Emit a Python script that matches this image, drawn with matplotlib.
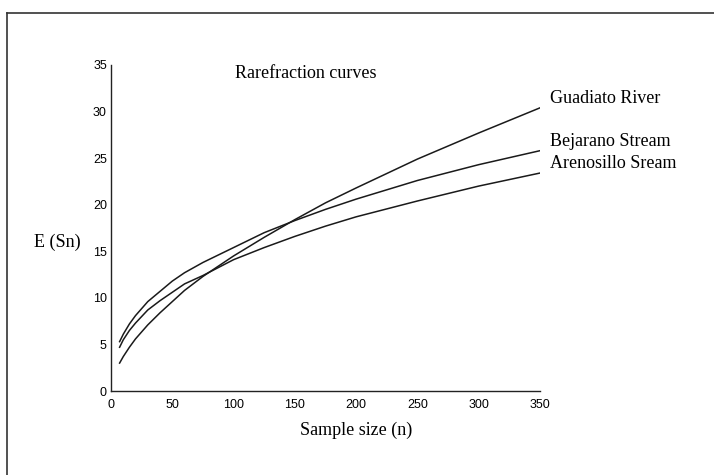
import matplotlib
matplotlib.use("Agg")
import matplotlib.pyplot as plt
from matplotlib.lines import Line2D

# sample size (n) at which the curves were read
n = [7, 10, 15, 20, 30, 40, 50, 60, 75, 100, 125, 150, 175, 200, 250, 300, 350]

# expected number of species E(Sn)
guadiato = [3.0, 3.7, 4.7, 5.6, 7.1, 8.4, 9.6, 10.8, 12.3, 14.5, 16.5, 18.4, 20.2, 21.8, 24.9, 27.7, 30.4]
bejarano = [5.3, 6.1, 7.2, 8.1, 9.6, 10.7, 11.8, 12.7, 13.8, 15.4, 17.0, 18.3, 19.5, 20.6, 22.6, 24.3, 25.8]
arenosillo = [4.7, 5.5, 6.5, 7.3, 8.7, 9.7, 10.6, 11.5, 12.4, 14.1, 15.4, 16.6, 17.7, 18.7, 20.4, 22.0, 23.4]

series = [
    ("Guadiato River", guadiato),
    ("Bejarano Stream", bejarano),
    ("Arenosillo Sream", arenosillo),
]

x_ticks = [0, 50, 100, 150, 200, 250, 300, 350]
y_ticks = [0, 5, 10, 15, 20, 25, 30, 35]

serif = "Liberation Serif"
sans = "Liberation Sans"

fig = plt.figure(figsize=(7.14, 4.75), dpi=100)
ax = fig.add_axes([0.1555, 0.1768, 0.6008, 0.6864])

for name, vals in series:
    ax.plot(n, vals, color="#1a1a1a", lw=1.1)
    # label just right of where the curve ends
    ax.text(n[-1] + 8, vals[-1] + 1.0, name, fontsize=13, family=serif,
            ha="left", va="center", clip_on=False)

ax.set_xlim(0, 350)
ax.set_ylim(0, 35)
ax.set_xticks(x_ticks)
ax.set_yticks(y_ticks)
ax.tick_params(length=0, labelsize=9)
ax.tick_params(axis="x", pad=6)
ax.tick_params(axis="y", pad=3)
for lab in ax.get_xticklabels() + ax.get_yticklabels():
    lab.set_family(sans)

for side in ["top", "right"]:
    ax.spines[side].set_visible(False)
for side in ["left", "bottom"]:
    ax.spines[side].set_linewidth(1.0)
    ax.spines[side].set_color("#222222")

ax.text(101, 34.1, "Rarefraction curves", fontsize=13, family=serif,
        ha="left", va="center")
ax.text(200, -4.2, "Sample size (n)", fontsize=13, family=serif,
        ha="center", va="center", clip_on=False)
ax.text(-44, 16.0, "E (Sn)", fontsize=13, family=serif,
        ha="center", va="center", clip_on=False)

# outer box of the scanned figure (top and left edges only)
fig.add_artist(Line2D([0.0098, 1.0], [0.9726, 0.9726], color="#333333", lw=1.2))
fig.add_artist(Line2D([0.0098, 0.0098], [0.0, 0.9726], color="#333333", lw=1.2))

fig.savefig("out.png", dpi=100)
